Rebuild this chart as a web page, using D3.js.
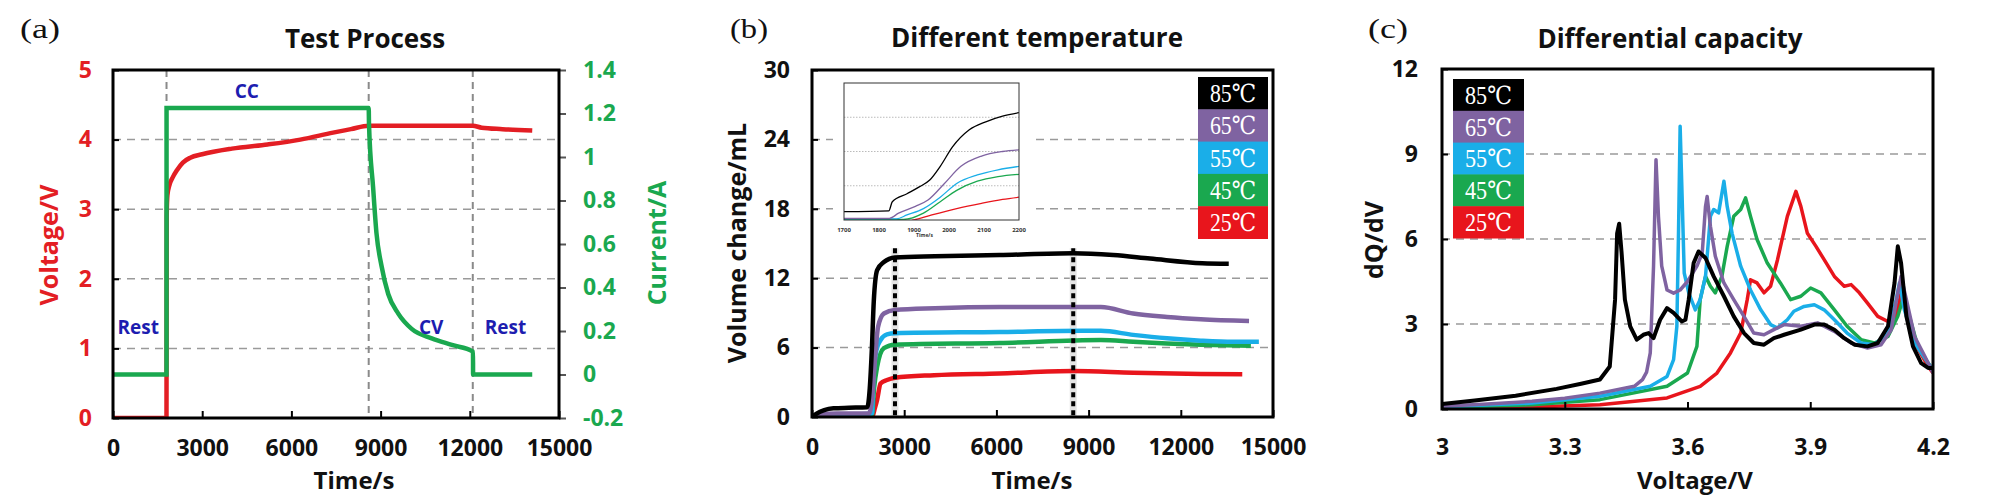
<!DOCTYPE html>
<html>
<head>
<meta charset="utf-8">
<script src="https://cdn.jsdelivr.net/npm/d3@7"></script>
<style>
  body { margin: 0; background: #fff; }
</style>
</head>
<body>
<div id="chart"></div>
<script>
// ---- panel (a): test process ----
var timeTicks   = [0, 3000, 6000, 9000, 12000, 15000];
var voltTicks   = [0, 1, 2, 3, 4, 5];
var currTicks   = [-0.2, 0, 0.2, 0.4, 0.6, 0.8, 1, 1.2, 1.4];
var phaseTimes  = [1800, 8600, 12100];
var phaseNames  = ["Rest", "CC", "CV", "Rest"];
var phaseAt     = [[850, 1.2], [4500, 4.6], [10700, 1.2], [13200, 1.2]];   // [time, voltage]
var voltage = [[0, 0], [1799, 0], [1806, 2.9], [1830, 3.2], [1900, 3.35], [2000, 3.45], [2150, 3.56],
  [2350, 3.67], [2600, 3.74], [3000, 3.79], [4000, 3.87], [5200, 3.93], [6300, 4.0], [7400, 4.1],
  [8000, 4.15], [8600, 4.2], [12100, 4.2], [12400, 4.17], [13100, 4.15], [14100, 4.13]];
var current = [[0, 0], [1800, 0], [1801, 1.225], [8600, 1.225], [8610, 1.15], [8748, 0.86], [8861, 0.65],
  [9030, 0.5], [9256, 0.37], [9594, 0.28], [10045, 0.21], [10721, 0.166], [11398, 0.136],
  [12108, 0.105], [12110, 0], [14100, 0]];

// ---- panel (b): volume change at different temperature ----
var temps      = ["85℃", "65℃", "55℃", "45℃", "25℃"];
var tempColors = ["#000000", "#7f63a1", "#1aaee8", "#1aa84f", "#e8151c"];
var volTicks   = [0, 6, 12, 18, 24, 30];
var markTimes  = [2700, 8500];
var vol85 = [[0, 0], [150, 0.3], [400, 0.6], [700, 0.75], [1200, 0.8], [1800, 0.85], [1880, 2.5], [1950, 6],
  [2010, 10], [2120, 12.7], [2340, 13.4], [2700, 13.8], [4000, 13.9], [6100, 14.0], [8500, 14.15],
  [9800, 14.0], [11000, 13.7], [12700, 13.3], [13560, 13.25]];
var vol65 = [[0, 0], [300, 0.2], [800, 0.3], [1850, 0.3], [1950, 1.5], [2050, 5], [2150, 7.8], [2340, 8.95],
  [2700, 9.25], [4000, 9.4], [6100, 9.5], [9400, 9.5], [10450, 8.95], [11550, 8.65], [12650, 8.45], [14220, 8.3]];
var vol55 = [[0, 0], [500, 0.1], [1950, 0.3], [2000, 3.5], [2100, 5.8], [2230, 6.65], [2440, 7.15], [2700, 7.25],
  [6100, 7.35], [8800, 7.45], [9400, 7.45], [10450, 7.1], [11550, 6.8], [12650, 6.6], [13700, 6.5], [14540, 6.5]];
var vol45 = [[0, 0], [1950, 0.1], [2020, 2.5], [2120, 4.35], [2340, 5.95], [2700, 6.25], [6100, 6.4],
  [9400, 6.65], [10450, 6.5], [11550, 6.35], [12650, 6.25], [14280, 6.15]];
var vol25 = [[0, 0], [1950, 0], [2050, 0.8], [2120, 1.5], [2230, 2.9], [2440, 3.2], [2700, 3.4], [3970, 3.62],
  [6100, 3.77], [8500, 3.97], [10450, 3.83], [12650, 3.72], [14000, 3.7]];
// inset zoom 1700-2200 s
var insetTicks = [1700, 1800, 1900, 2000, 2100, 2200];
var inset85 = [[1700, 0.73], [1828, 0.8], [1838, 1.6], [1880, 2.3], [1915, 2.9], [1945, 3.5], [1975, 4.7],
  [2010, 6.4], [2058, 7.9], [2105, 8.6], [2153, 9.1], [2200, 9.4]];
var inset65 = [[1700, 0.15], [1830, 0.15], [1856, 0.6], [1904, 1.2], [1940, 1.75], [1987, 3.2], [2034, 4.7],
  [2093, 5.6], [2153, 6.0], [2200, 6.15]];
var inset55 = [[1700, 0.1], [1850, 0.1], [1880, 0.44], [1927, 1.0], [1975, 2.0], [2022, 3.2], [2081, 3.95],
  [2140, 4.4], [2200, 4.7]];
var inset45 = [[1700, 0.05], [1870, 0.05], [1927, 0.6], [1975, 1.6], [2022, 2.6], [2081, 3.4], [2140, 3.8], [2200, 4.0]];
var inset25 = [[1700, -1], [1900, 0], [1951, 0.44], [2022, 1.0], [2093, 1.46], [2153, 1.8], [2200, 2.0]];

// ---- panel (c): differential capacity ----
var voltAxisTicks = [3, 3.3, 3.6, 3.9, 4.2];
var dqdvTicks     = [0, 3, 6, 9, 12];
var dqdv85 = [[3.0, 0.18], [3.08, 0.3], [3.18, 0.47], [3.28, 0.71], [3.34, 0.89], [3.386, 1.04], [3.41, 1.5],
  [3.423, 3.86], [3.428, 6.2], [3.433, 6.54], [3.439, 5.5], [3.447, 3.86], [3.46, 2.92], [3.476, 2.45],
  [3.492, 2.62], [3.505, 2.68], [3.517, 2.5], [3.533, 3.15], [3.55, 3.56], [3.566, 3.39], [3.586, 3.09],
  [3.595, 3.15], [3.603, 3.86], [3.615, 5.15], [3.627, 5.56], [3.644, 5.33], [3.664, 4.68], [3.689, 3.98],
  [3.713, 3.27], [3.738, 2.68], [3.762, 2.33], [3.787, 2.27], [3.811, 2.5], [3.836, 2.62], [3.877, 2.8],
  [3.91, 2.98], [3.934, 2.98], [3.959, 2.8], [3.983, 2.5], [4.008, 2.27], [4.04, 2.21], [4.065, 2.33],
  [4.09, 2.92], [4.106, 4.45], [4.114, 5.74], [4.122, 5.15], [4.135, 3.27], [4.151, 2.21], [4.171, 1.62],
  [4.188, 1.45], [4.2, 1.45]];
var dqdv65 = [[3.0, 0.1], [3.1, 0.17], [3.22, 0.27], [3.3, 0.38], [3.386, 0.56], [3.47, 0.8], [3.49, 1.04],
  [3.5, 1.3], [3.509, 1.98], [3.517, 5.04], [3.523, 8.8], [3.529, 6.8], [3.537, 5.04], [3.55, 4.2], [3.566, 4.09],
  [3.582, 4.2], [3.6, 4.5], [3.623, 5.04], [3.636, 5.5], [3.644, 7.15], [3.648, 7.5], [3.656, 6.45], [3.668, 5.39],
  [3.689, 4.45], [3.713, 3.86], [3.738, 3.27], [3.762, 2.68], [3.787, 2.62], [3.811, 2.8], [3.836, 2.98],
  [3.877, 2.92], [3.918, 3.04], [3.959, 2.74], [4.0, 2.33], [4.04, 2.15], [4.073, 2.27], [4.098, 2.8],
  [4.114, 4.1], [4.122, 4.68], [4.135, 3.86], [4.155, 2.56], [4.18, 1.86], [4.2, 1.27]];
var dqdv55 = [[3.0, 0.08], [3.22, 0.21], [3.386, 0.45], [3.509, 0.8], [3.55, 1.15], [3.566, 1.74], [3.574, 2.92],
  [3.578, 6.2], [3.582, 9.98], [3.587, 7.4], [3.592, 4.8], [3.603, 4.1], [3.619, 3.5], [3.631, 3.86],
  [3.644, 4.68], [3.656, 6.8], [3.664, 7.04], [3.676, 6.92], [3.689, 8.04], [3.697, 7.15], [3.709, 6.2],
  [3.73, 5.04], [3.754, 4.2], [3.779, 3.5], [3.803, 2.98], [3.82, 2.86], [3.844, 3.15], [3.86, 3.45],
  [3.885, 3.62], [3.91, 3.68], [3.934, 3.5], [3.959, 3.15], [3.99, 2.68], [4.024, 2.33], [4.057, 2.27],
  [4.09, 2.68], [4.11, 3.86], [4.118, 4.45], [4.13, 3.5], [4.155, 2.33], [4.188, 1.62], [4.2, 1.39]];
var dqdv45 = [[3.0, 0.05], [3.22, 0.15], [3.386, 0.33], [3.55, 0.8], [3.6, 1.27], [3.623, 2.21], [3.631, 3.86],
  [3.644, 4.68], [3.656, 4.33], [3.668, 4.1], [3.684, 4.68], [3.697, 5.74], [3.713, 6.8], [3.73, 7.04],
  [3.742, 7.45], [3.754, 6.8], [3.77, 5.98], [3.795, 5.15], [3.827, 4.45], [3.852, 3.86], [3.877, 3.98],
  [3.901, 4.27], [3.926, 4.1], [3.959, 3.5], [3.99, 2.92], [4.024, 2.45], [4.057, 2.33], [4.09, 2.56],
  [4.114, 3.27], [4.126, 3.86], [4.14, 3.39], [4.163, 2.21], [4.188, 1.62], [4.2, 1.39]];
var dqdv25 = [[3.0, 0.03], [3.22, 0.07], [3.386, 0.15], [3.55, 0.39], [3.631, 0.8], [3.672, 1.27], [3.705, 1.98],
  [3.73, 2.68], [3.746, 3.86], [3.754, 4.56], [3.77, 4.45], [3.787, 4.1], [3.803, 4.33], [3.82, 5.27],
  [3.844, 6.8], [3.865, 7.68], [3.877, 7.15], [3.893, 6.2], [3.914, 5.74], [3.934, 5.27], [3.959, 4.68],
  [3.983, 4.33], [4.0, 4.39], [4.02, 4.1], [4.04, 3.74], [4.065, 3.27], [4.09, 3.09], [4.11, 3.27],
  [4.122, 4.1], [4.135, 3.5], [4.155, 2.33], [4.188, 1.5], [4.2, 1.27]];

var SANS  = "'Open Sans','Noto Sans',sans-serif";
var SERIF = "'Liberation Serif','DejaVu Serif','Noto Sans CJK SC',serif";
var RED = "#e31e24", GREEN = "#1aa84f", NAVY = "#1d1db0";
var plain = function(d) { return String(+d.toFixed(1)); };   // 3000 not 3,000; 5 not 5.0

var svg = d3.select("#chart").append("svg")
    .attr("width", 2000).attr("height", 500)
    .style("background", "#fff");
var defs = svg.append("defs");

// helpers shared by the three panels
function clipFor(id, x, y) {
  defs.append("clipPath").attr("id", id).append("rect")
    .attr("x", x.range()[0]).attr("y", y.range()[1])
    .attr("width", x.range()[1] - x.range()[0]).attr("height", y.range()[0] - y.range()[1]);
}

function hGrid(g, x, y, vals) {
  g.append("g").selectAll("line").data(vals).enter().append("line")
    .attr("x1", x.range()[0]).attr("x2", x.range()[1])
    .attr("y1", function(d) { return y(d); }).attr("y2", function(d) { return y(d); })
    .style("stroke", "#9a9a9a").style("stroke-width", 1.5).style("stroke-dasharray", "8,6");
}

function frame(g, x, y) {
  g.append("rect")
    .attr("x", x.range()[0]).attr("y", y.range()[1])
    .attr("width", x.range()[1] - x.range()[0]).attr("height", y.range()[0] - y.range()[1])
    .style("fill", "none").style("stroke", "#000").style("stroke-width", 3);
}

function styleAxis(a, color) {
  a.select(".domain").remove();
  a.selectAll("line").style("stroke", "#000").style("stroke-width", 2);
  a.selectAll("text").style("font-family", SANS).style("font-size", "23px")
    .style("font-weight", 700).style("fill", color);
}

function label(g, txt, x, y, opts) {
  opts = opts || {};
  var t = g.append("text").text(txt)
    .attr("x", x).attr("y", y)
    .attr("text-anchor", opts.anchor || "middle")
    .style("font-family", opts.family || SANS)
    .style("font-size", (opts.size || 25) + "px")
    .style("font-weight", opts.weight || 700)
    .style("fill", opts.color || "#111");
  if (opts.rotate) t.attr("transform", "rotate(-90," + x + "," + y + ")");
  if (opts.len) t.attr("textLength", opts.len).attr("lengthAdjust", "spacingAndGlyphs");
  return t;
}

function legend(g, x0, y0, w, h) {
  var item = g.append("g").selectAll("g").data(temps).enter().append("g");
  item.append("rect")
    .attr("x", x0).attr("y", function(d, i) { return y0 + i * h; })
    .attr("width", w).attr("height", h + 0.5)
    .style("fill", function(d, i) { return tempColors[i]; });
  item.append("text").text(function(d) { return d; })
    .attr("x", x0 + w / 2).attr("y", function(d, i) { return y0 + i * h + h * 0.78; })
    .attr("text-anchor", "middle")
    .attr("textLength", w * 0.66).attr("lengthAdjust", "spacingAndGlyphs")
    .style("font-family", SERIF).style("font-size", "25px").style("fill", "#fff");
}

/*** panel (a) ***/
function drawA() {
  var g = svg.append("g").attr("class", "panel_a");
  var x  = d3.scaleLinear().domain([0, 15000]).range([113, 559]);
  var yV = d3.scaleLinear().domain([0, 5]).range([418, 70]);
  var yI = d3.scaleLinear().domain([-0.2, 1.4]).range([418, 70]);
  clipFor("clipA", x, yV);

  hGrid(g, x, yV, [1, 2, 3, 4]);
  g.append("g").selectAll("line").data(phaseTimes).enter().append("line")
    .attr("x1", function(d) { return x(d); }).attr("x2", function(d) { return x(d); })
    .attr("y1", yV.range()[1]).attr("y2", yV.range()[0])
    .style("stroke", "#8a8a8a").style("stroke-width", 2).style("stroke-dasharray", "7,5");

  var plot = g.append("g").attr("clip-path", "url(#clipA)");
  plot.append("path").datum(voltage)
    .attr("d", d3.line().x(function(d) { return x(d[0]); }).y(function(d) { return yV(d[1]); }).curve(d3.curveMonotoneX))
    .style("fill", "none").style("stroke", RED).style("stroke-width", 4.5);
  plot.append("path").datum(current)
    .attr("d", d3.line().x(function(d) { return x(d[0]); }).y(function(d) { return yI(d[1]); }).curve(d3.curveMonotoneX))
    .style("fill", "none").style("stroke", GREEN).style("stroke-width", 4.5);

  g.append("g").selectAll("text").data(phaseNames).enter().append("text")
    .text(function(d) { return d; })
    .attr("x", function(d, i) { return x(phaseAt[i][0]); })
    .attr("y", function(d, i) { return yV(phaseAt[i][1]); })
    .attr("text-anchor", "middle")
    .style("font-family", SANS).style("font-size", "19px").style("font-weight", 700).style("fill", NAVY);

  var ax = g.append("g").attr("transform", "translate(0," + yV.range()[0] + ")")
    .call(d3.axisBottom(x).tickValues(timeTicks).tickFormat(plain)
      .tickSizeInner(-7).tickSizeOuter(0).tickPadding(22));
  styleAxis(ax, "#111");
  var ayl = g.append("g").attr("transform", "translate(" + x.range()[0] + ",0)")
    .call(d3.axisLeft(yV).tickValues(voltTicks).tickFormat(plain)
      .tickSizeInner(-6).tickSizeOuter(0).tickPadding(21));
  styleAxis(ayl, RED);
  var ayr = g.append("g").attr("transform", "translate(" + x.range()[1] + ",0)")
    .call(d3.axisRight(yI).tickValues(currTicks).tickFormat(plain)
      .tickSizeInner(7).tickSizeOuter(0).tickPadding(17));
  styleAxis(ayr, GREEN);
  ayr.selectAll("line").style("stroke", "#555");

  frame(g, x, yV);
  label(g, "(a)", 40, 38, { family: SERIF, size: 27, weight: 400, len: 40 });
  label(g, "Test Process", 365, 48, { size: 26 });
  label(g, "Time/s", 354, 489, { size: 24 });
  label(g, "Voltage/V", 58, 245, { rotate: true, color: RED });
  label(g, "Current/A", 666, 243, { rotate: true, color: GREEN });
}

/*** panel (b) ***/
function drawB() {
  var g = svg.append("g").attr("class", "panel_b");
  var x = d3.scaleLinear().domain([0, 15000]).range([812, 1273]);
  var y = d3.scaleLinear().domain([0, 30]).range([417, 70]);
  clipFor("clipB", x, y);
  hGrid(g, x, y, [6, 12, 18, 24]);

  var series = [vol85, vol65, vol55, vol45, vol25];
  var line = d3.line().x(function(d) { return x(d[0]); }).y(function(d) { return y(d[1]); }).curve(d3.curveMonotoneX);

  // inset background hides the grid behind it
  g.append("rect").attr("x", 833).attr("y", 78).attr("width", 197).attr("height", 164).style("fill", "#fff");

  var plot = g.append("g").attr("clip-path", "url(#clipB)");
  markTimes.forEach(function(t) {
    plot.append("line").attr("x1", x(t)).attr("x2", x(t)).attr("y1", y(14.6)).attr("y2", y(0))
      .style("stroke", "#e4e4e4").style("stroke-width", 7);
  });
  plot.selectAll("path.vol").data(series.slice().reverse()).enter().append("path")
    .attr("class", "vol")
    .attr("d", line)
    .style("fill", "none")
    .style("stroke", function(d, i) { return tempColors[4 - i]; })
    .style("stroke-width", 4.5);
  plot.selectAll("line.mark").data(markTimes).enter().append("line")
    .attr("class", "mark")
    .attr("x1", function(d) { return x(d); }).attr("x2", function(d) { return x(d); })
    .attr("y1", y(14.6)).attr("y2", y(0))
    .style("stroke", "#000").style("stroke-width", 4).style("stroke-dasharray", "5,4");

  // inset
  var ix = d3.scaleLinear().domain([1700, 2200]).range([844, 1019]);
  var iy = d3.scaleLinear().domain([0, 12]).range([220, 83]);
  defs.append("clipPath").attr("id", "clipInset").append("rect")
    .attr("x", 844).attr("y", 83).attr("width", 175).attr("height", 137);
  g.append("g").selectAll("line").data([3, 6, 9]).enter().append("line")
    .attr("x1", ix.range()[0]).attr("x2", ix.range()[1])
    .attr("y1", function(d) { return iy(d); }).attr("y2", function(d) { return iy(d); })
    .style("stroke", "#bbb").style("stroke-width", 1).style("stroke-dasharray", "1.5,1.5");
  var iline = d3.line().x(function(d) { return ix(d[0]); }).y(function(d) { return iy(d[1]); }).curve(d3.curveMonotoneX);
  g.append("g").attr("clip-path", "url(#clipInset)")
    .selectAll("path").data([inset25, inset45, inset55, inset65, inset85]).enter().append("path")
    .attr("d", iline)
    .style("fill", "none")
    .style("stroke", function(d, i) { return tempColors[4 - i]; })
    .style("stroke-width", 1.3);
  g.append("rect").attr("x", 844).attr("y", 83).attr("width", 175).attr("height", 137)
    .style("fill", "none").style("stroke", "#333").style("stroke-width", 1);
  g.append("g").selectAll("text").data(insetTicks).enter().append("text")
    .text(function(d) { return d; })
    .attr("x", function(d) { return ix(d); }).attr("y", 232)
    .attr("text-anchor", "middle")
    .style("font-family", SANS).style("font-size", "6px").style("font-weight", 700).style("fill", "#333");
  label(g, "Time/s", ix(1930), 237, { size: 5, color: "#333" });

  var ax = g.append("g").attr("transform", "translate(0," + y.range()[0] + ")")
    .call(d3.axisBottom(x).tickValues(timeTicks).tickFormat(plain)
      .tickSizeInner(-7).tickSizeOuter(0).tickPadding(22));
  styleAxis(ax, "#111");
  var ay = g.append("g").attr("transform", "translate(" + x.range()[0] + ",0)")
    .call(d3.axisLeft(y).tickValues(volTicks).tickFormat(plain)
      .tickSizeInner(-6).tickSizeOuter(0).tickPadding(22));
  styleAxis(ay, "#111");

  frame(g, x, y);
  legend(g, 1198, 77, 70, 32.3);
  label(g, "(b)", 749, 38, { family: SERIF, size: 27, weight: 400, len: 38 });
  label(g, "Different temperature", 1037, 47, { size: 26 });
  label(g, "Time/s", 1032, 489, { size: 24 });
  label(g, "Volume change/mL", 746, 243, { rotate: true });
}

/*** panel (c) ***/
function drawC() {
  var g = svg.append("g").attr("class", "panel_c");
  var x = d3.scaleLinear().domain([3, 4.2]).range([1442, 1933]);
  var y = d3.scaleLinear().domain([0, 12]).range([409, 69]);
  clipFor("clipC", x, y);
  hGrid(g, x, y, [3, 6, 9]);

  var line = d3.line().x(function(d) { return x(d[0]); }).y(function(d) { return y(d[1]); });
  g.append("g").attr("clip-path", "url(#clipC)")
    .selectAll("path").data([dqdv25, dqdv45, dqdv55, dqdv65, dqdv85]).enter().append("path")
    .attr("d", line)
    .style("fill", "none")
    .style("stroke", function(d, i) { return tempColors[4 - i]; })
    .style("stroke-width", function(d, i) { return i === 4 ? 4 : 3.5; })
    .style("stroke-linejoin", "round");

  var ax = g.append("g").attr("transform", "translate(0," + y.range()[0] + ")")
    .call(d3.axisBottom(x).tickValues(voltAxisTicks).tickFormat(plain)
      .tickSizeInner(-7).tickSizeOuter(0).tickPadding(30));
  styleAxis(ax, "#111");
  var ay = g.append("g").attr("transform", "translate(" + x.range()[0] + ",0)")
    .call(d3.axisLeft(y).tickValues(dqdvTicks).tickFormat(plain)
      .tickSizeInner(-6).tickSizeOuter(0).tickPadding(24));
  styleAxis(ay, "#111");

  frame(g, x, y);
  legend(g, 1453, 79, 71, 31.8);
  label(g, "(c)", 1388, 38, { family: SERIF, size: 27, weight: 400, len: 40 });
  label(g, "Differential capacity", 1670, 48, { size: 26 });
  label(g, "Voltage/V", 1695, 489, { size: 24 });
  label(g, "dQ/dV", 1383, 240, { rotate: true });
}

drawA();
drawB();
drawC();
</script>
</body>
</html>
